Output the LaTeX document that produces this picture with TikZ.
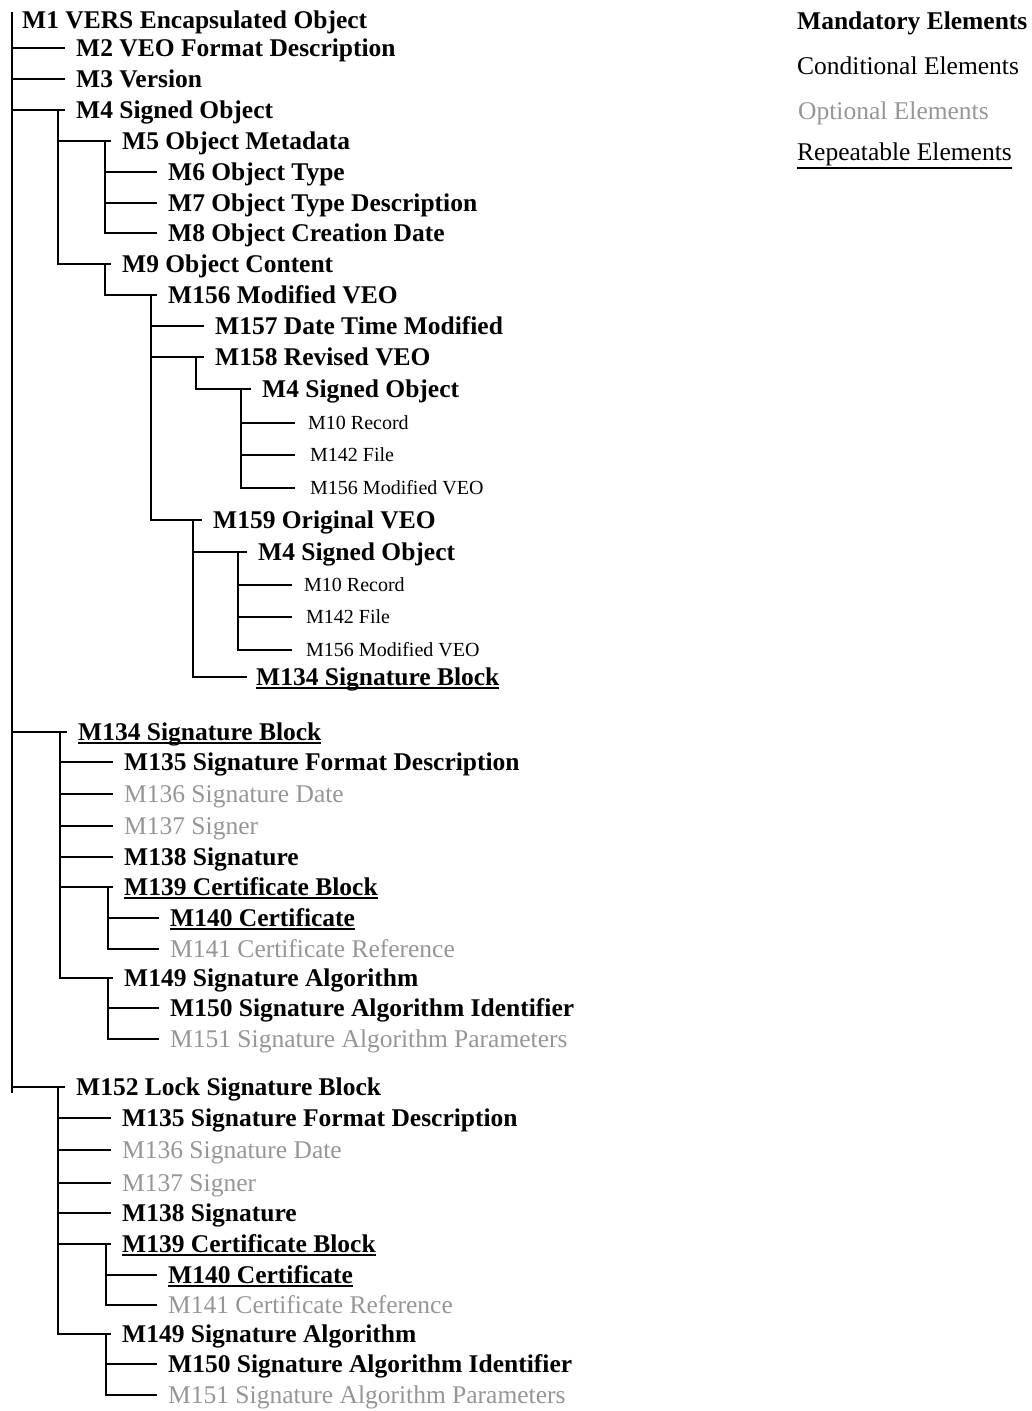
\documentclass[tikz,border=0pt]{standalone}
\usepackage{fontspec}
\setmainfont{Liberation Serif}
\definecolor{optgrey}{RGB}{150,150,150}
\newcommand{\repul}[2][4pt]{\setbox0\hbox{#2}\rlap{\rule[-#1]{\wd0}{2pt}}\box0}
\tikzset{
	lbl/.style={anchor=west, inner sep=0pt, text depth=0pt},
	mand/.style={lbl, text height=16.5pt, font=\fontsize{25.5pt}{30pt}\selectfont\bfseries},
	cond/.style={lbl, text height=16.5pt, font=\fontsize{25.5pt}{30pt}\selectfont},
	opt/.style={cond, text=optgrey},
	refitem/.style={lbl, text height=13pt, font=\fontsize{20pt}{24pt}\selectfont},
	conn/.style={line width=1.5pt}
}
\begin{document}
\begin{tikzpicture}[x=1pt, y=-1pt]
			\useasboundingbox (0, 0) rectangle (1032, 1411);
			\node[mand] (m1) at (22, 20) {M1 VERS Encapsulated Object};
			\node[mand] (m2) at (76, 48) {M2 VEO Format Description};
			\node[mand] (m3) at (76, 79) {M3 Version};
			\node[mand] (m4) at (76, 110) {M4 Signed Object};
			\node[mand] (m5) at (122, 141) {M5 Object Metadata};
			\node[mand] (m6) at (168, 172) {M6 Object Type};
			\node[mand] (m7) at (168, 203) {M7 Object Type Description};
			\node[mand] (m8) at (168, 233) {M8 Object Creation Date};
			\node[mand] (m9) at (122, 264) {M9 Object Content};
			\node[mand] (mod) at (168, 295) {M156 Modified VEO};
			\node[mand] (dtm) at (215, 326) {M157 Date Time Modified};
			\node[mand] (rev) at (215, 357) {M158 Revised VEO};
			\node[mand] (rso) at (262, 389) {M4 Signed Object};
			\node[refitem] (rrec) at (308, 423) {M10 Record};
			\node[refitem] (rfile) at (310, 455) {M142 File};
			\node[refitem] (rmod) at (310, 488) {M156 Modified VEO};
			\node[mand] (orig) at (213, 520) {M159 Original VEO};
			\node[mand] (oso) at (258, 552) {M4 Signed Object};
			\node[refitem] (orec) at (304, 585) {M10 Record};
			\node[refitem] (ofile) at (306, 617) {M142 File};
			\node[refitem] (omod) at (306, 650) {M156 Modified VEO};
			\node[mand] (osig) at (256, 677) {\repul{M134 Signature Block}};
			\node[mand] (sig) at (78, 732) {\repul{M134 Signature Block}};
			\node[mand] (sfd) at (124, 762) {M135 Signature Format Description};
			\node[opt] (sdate) at (124, 794) {M136 Signature Date};
			\node[opt] (signer) at (124, 826) {M137 Signer};
			\node[mand] (sval) at (124, 857) {M138 Signature};
			\node[mand] (cblk) at (124, 887) {\repul{M139 Certificate Block}};
			\node[mand] (cert) at (170, 918) {\repul{M140 Certificate}};
			\node[opt] (cref) at (170, 949) {M141 Certificate Reference};
			\node[mand] (salg) at (124, 978) {M149 Signature Algorithm};
			\node[mand] (said) at (170, 1008) {M150 Signature Algorithm Identifier};
			\node[opt] (spar) at (170, 1039) {M151 Signature Algorithm Parameters};
			\node[mand] (lsig) at (76, 1087) {M152 Lock Signature Block};
			\node[mand] (lsfd) at (122, 1118) {M135 Signature Format Description};
			\node[opt] (lsdate) at (122, 1150) {M136 Signature Date};
			\node[opt] (lsigner) at (122, 1183) {M137 Signer};
			\node[mand] (lsval) at (122, 1213) {M138 Signature};
			\node[mand] (lcblk) at (122, 1244) {\repul{M139 Certificate Block}};
			\node[mand] (lcert) at (168, 1275) {\repul{M140 Certificate}};
			\node[opt] (lcref) at (168, 1305) {M141 Certificate Reference};
			\node[mand] (lsalg) at (122, 1334) {M149 Signature Algorithm};
			\node[mand] (lsaid) at (168, 1364) {M150 Signature Algorithm Identifier};
			\node[opt] (lspar) at (168, 1395) {M151 Signature Algorithm Parameters};
			\node[mand] (kmand) at (797, 21) {Mandatory Elements};
			\node[cond] (kcond) at (797, 66) {Conditional Elements};
			\node[opt] (kopt) at (798, 111) {Optional Elements};
			\node[cond] (krep) at (797, 152) {\repul[8.5pt]{Repeatable Elements}};
			\coordinate (rtop) at (12, 12);
			\coordinate (rbot) at (12, 1093);
			\draw[conn] (rtop) -- (rbot);
			\draw[conn] (rtop |- m2.west) -- ([xshift=-11pt]m2.west);
			\draw[conn] (rtop |- m3.west) -- ([xshift=-11pt]m3.west);
			\draw[conn] (rtop |- m4.west) -- ([xshift=-11pt]m4.west);
			\draw[conn] (rtop |- sig.west) -- ([xshift=-11pt]sig.west);
			\draw[conn] (rtop |- lsig.west) -- ([xshift=-11pt]lsig.west);
			\draw[conn] ([xshift=-18pt]m4.west) |- ([xshift=-11pt]m5.west);
			\draw[conn] ([xshift=-18pt]m4.west) |- ([xshift=-11pt]m9.west);
			\draw[conn] ([xshift=-17pt]m5.west) |- ([xshift=-11pt]m6.west);
			\draw[conn] ([xshift=-17pt]m5.west) |- ([xshift=-11pt]m7.west);
			\draw[conn] ([xshift=-17pt]m5.west) |- ([xshift=-11pt]m8.west);
			\draw[conn] ([xshift=-17pt]m9.west) |- ([xshift=-11pt]mod.west);
			\draw[conn] ([xshift=-17pt]mod.west) |- ([xshift=-11pt]dtm.west);
			\draw[conn] ([xshift=-17pt]mod.west) |- ([xshift=-11pt]rev.west);
			\draw[conn] ([xshift=-17pt]mod.west) |- ([xshift=-11pt]orig.west);
			\draw[conn] ([xshift=-19pt]rev.west) |- ([xshift=-11pt]rso.west);
			\draw[conn] ([xshift=-21pt]rso.west) |- ([xshift=-13pt]rrec.west);
			\draw[conn] ([xshift=-21pt]rso.west) |- ([xshift=-15pt]rfile.west);
			\draw[conn] ([xshift=-21pt]rso.west) |- ([xshift=-15pt]rmod.west);
			\draw[conn] ([xshift=-20pt]orig.west) |- ([xshift=-11pt]oso.west);
			\draw[conn] ([xshift=-20pt]orig.west) |- ([xshift=-9pt]osig.west);
			\draw[conn] ([xshift=-20pt]oso.west) |- ([xshift=-12pt]orec.west);
			\draw[conn] ([xshift=-20pt]oso.west) |- ([xshift=-14pt]ofile.west);
			\draw[conn] ([xshift=-20pt]oso.west) |- ([xshift=-14pt]omod.west);
			\draw[conn] ([xshift=-18pt]sig.west) |- ([xshift=-11pt]sfd.west);
			\draw[conn] ([xshift=-18pt]sig.west) |- ([xshift=-11pt]sdate.west);
			\draw[conn] ([xshift=-18pt]sig.west) |- ([xshift=-11pt]signer.west);
			\draw[conn] ([xshift=-18pt]sig.west) |- ([xshift=-11pt]sval.west);
			\draw[conn] ([xshift=-18pt]sig.west) |- ([xshift=-11pt]cblk.west);
			\draw[conn] ([xshift=-18pt]sig.west) |- ([xshift=-11pt]salg.west);
			\draw[conn] ([xshift=-16pt]cblk.west) |- ([xshift=-11pt]cert.west);
			\draw[conn] ([xshift=-16pt]cblk.west) |- ([xshift=-11pt]cref.west);
			\draw[conn] ([xshift=-16pt]salg.west) |- ([xshift=-11pt]said.west);
			\draw[conn] ([xshift=-16pt]salg.west) |- ([xshift=-11pt]spar.west);
			\draw[conn] ([xshift=-18pt]lsig.west) |- ([xshift=-11pt]lsfd.west);
			\draw[conn] ([xshift=-18pt]lsig.west) |- ([xshift=-11pt]lsdate.west);
			\draw[conn] ([xshift=-18pt]lsig.west) |- ([xshift=-11pt]lsigner.west);
			\draw[conn] ([xshift=-18pt]lsig.west) |- ([xshift=-11pt]lsval.west);
			\draw[conn] ([xshift=-18pt]lsig.west) |- ([xshift=-11pt]lcblk.west);
			\draw[conn] ([xshift=-18pt]lsig.west) |- ([xshift=-11pt]lsalg.west);
			\draw[conn] ([xshift=-16pt]lcblk.west) |- ([xshift=-11pt]lcert.west);
			\draw[conn] ([xshift=-16pt]lcblk.west) |- ([xshift=-11pt]lcref.west);
			\draw[conn] ([xshift=-16pt]lsalg.west) |- ([xshift=-11pt]lsaid.west);
			\draw[conn] ([xshift=-16pt]lsalg.west) |- ([xshift=-11pt]lspar.west);
\end{tikzpicture}
\end{document}
